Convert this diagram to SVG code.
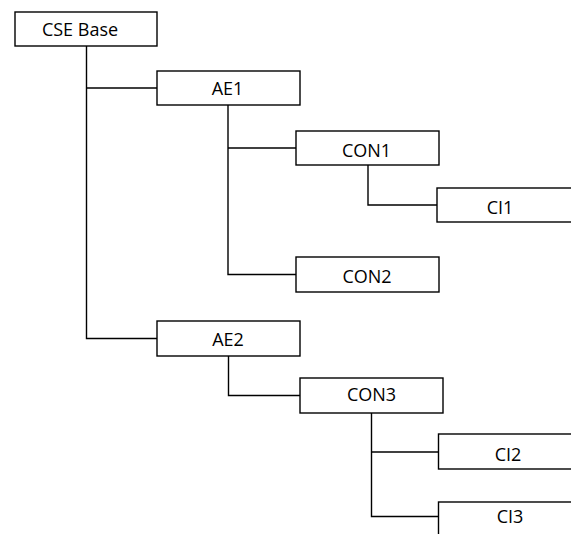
<svg xmlns="http://www.w3.org/2000/svg" width="571" height="534" viewBox="0 0 571 534">
  <style>
    .box { fill: #ffffff; stroke: #000000; stroke-width: 1.4; }
    .lbl { font-family: "Open Sans", "Liberation Sans", sans-serif; font-size: 18px; fill: #000000; text-anchor: middle; dominant-baseline: central; }
    .wire { fill: none; stroke: #000000; stroke-width: 1.4; }
  </style>
  <rect width="571" height="534" fill="#ffffff"/>

  <!-- tree connectors -->
  <g id="connectors">
    <path class="wire" d="M86.5 46 V338.5 H157"/>
    <path class="wire" d="M86.5 88 H157"/>
    <path class="wire" d="M228 105 V274.5 H296"/>
    <path class="wire" d="M228 148 H296"/>
    <path class="wire" d="M368 165 V205 H437"/>
    <path class="wire" d="M228.5 356 V395.5 H300"/>
    <path class="wire" d="M371.5 413 V516.5 H438.5"/>
    <path class="wire" d="M371.5 452 H438.5"/>
  </g>

  <g id="cse-base">
    <rect class="box" x="15" y="12" width="142" height="34"/>
    <text class="lbl" x="80" y="29">CSE Base</text>
  </g>
  <g id="ae1">
    <rect class="box" x="157" y="71" width="143" height="34"/>
    <text class="lbl" x="227.5" y="88">AE1</text>
  </g>
  <g id="con1">
    <rect class="box" x="296" y="131" width="143" height="34"/>
    <text class="lbl" x="366.5" y="149.5">CON1</text>
  </g>
  <g id="ci1">
    <rect class="box" x="437" y="188" width="143" height="34"/>
    <text class="lbl" x="500" y="206.5">CI1</text>
  </g>
  <g id="con2">
    <rect class="box" x="296" y="257" width="143" height="35"/>
    <text class="lbl" x="367" y="275.5">CON2</text>
  </g>
  <g id="ae2">
    <rect class="box" x="157" y="321" width="143" height="35"/>
    <text class="lbl" x="228" y="339">AE2</text>
  </g>
  <g id="con3">
    <rect class="box" x="300" y="378" width="143" height="35"/>
    <text class="lbl" x="371.5" y="393.5">CON3</text>
  </g>
  <g id="ci2">
    <rect class="box" x="438.5" y="434" width="143" height="35"/>
    <text class="lbl" x="508" y="454">CI2</text>
  </g>
  <g id="ci3">
    <rect class="box" x="438.5" y="502" width="143" height="40"/>
    <text class="lbl" x="510" y="516">CI3</text>
  </g>
</svg>
